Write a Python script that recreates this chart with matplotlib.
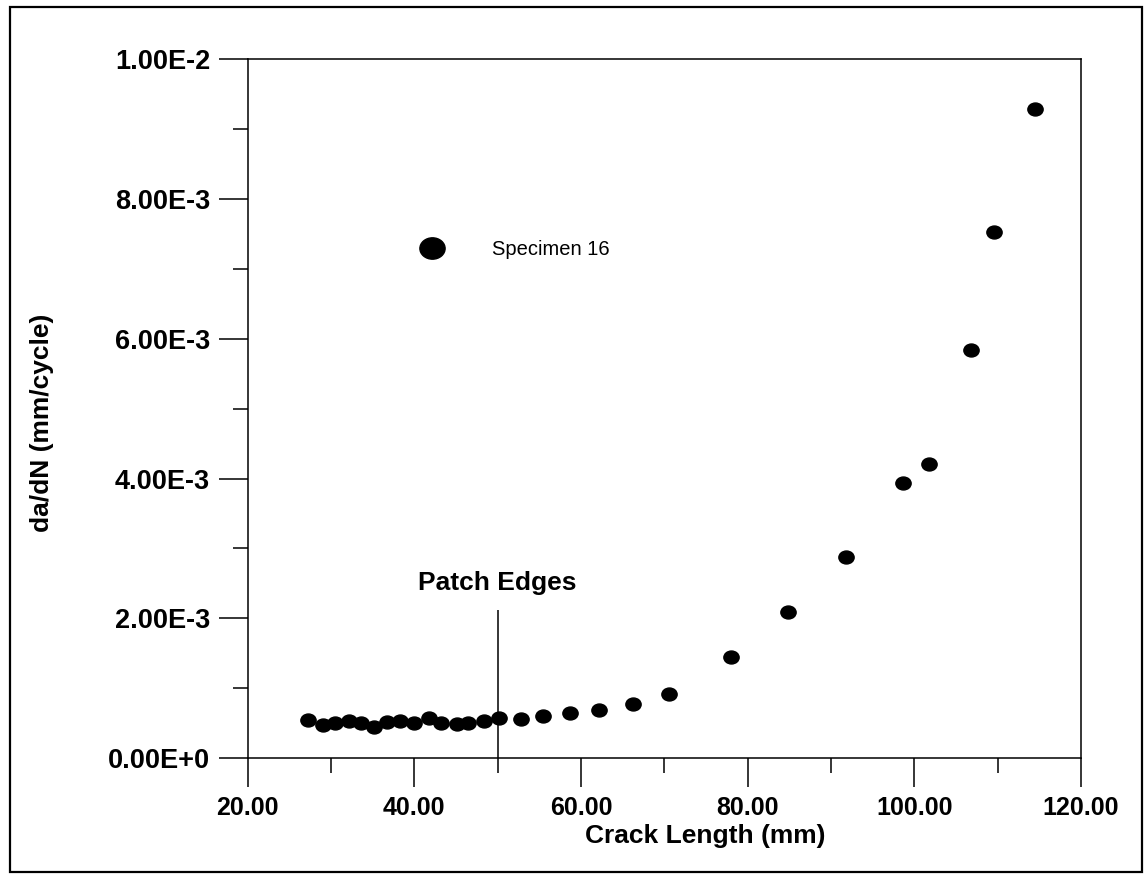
import numpy as np
import matplotlib
matplotlib.use("Agg")
import matplotlib.pyplot as plt
from matplotlib.ticker import MultipleLocator, FuncFormatter
from matplotlib.path import Path
from matplotlib.patches import Rectangle
from matplotlib.transforms import Affine2D

# --- da/dN vs crack length, specimen 16 ---

crack_len = [27.24, 29.04, 30.53, 32.12, 33.65, 35.17, 36.77, 38.33, 39.93, 41.77,
             43.21, 45.09, 46.49, 48.37, 50.17, 52.77, 55.50, 58.74, 62.14, 66.26,
             70.54, 78.00, 84.87, 91.80, 98.68, 101.80, 106.83, 109.60, 114.45]
# growth rate in 1e-3 mm/cycle
dadn_e3 = [0.542, 0.48, 0.50, 0.54, 0.50, 0.45, 0.52, 0.54, 0.51, 0.575,
           0.50, 0.485, 0.51, 0.54, 0.57, 0.56, 0.61, 0.65, 0.685, 0.775,
           0.92, 1.45, 2.09, 2.88, 3.93, 4.21, 5.84, 7.52, 9.28]
series_name = "Specimen 16"

patch_x = 50.0
patch_top = 2.12e-3
patch_label = "Patch Edges"

dadn = np.array(dadn_e3) * 1e-3

plt.rcParams['font.family'] = ['Liberation Sans', 'DejaVu Sans']

fig = plt.figure(figsize=(11.44, 8.76), dpi=100)
ax = fig.add_axes([0.2165, 0.1344, 0.7284, 0.7982])

# slightly flattened dot, like the scanned markers
dot = Path.unit_circle().transformed(Affine2D().scale(1.18, 1.0))

ax.plot(crack_len, dadn, linestyle='none', marker=dot, markersize=11,
        color='black', label=series_name)
ax.vlines(patch_x, 0, patch_top, color='black', linewidth=1.1)
ax.text(patch_x, 2.5e-3, patch_label, ha='center', va='center',
        fontsize=19, fontweight='bold')

ax.set_xlim(20, 120)
ax.set_ylim(0, 0.01)

ax.xaxis.set_major_locator(MultipleLocator(20))
ax.xaxis.set_minor_locator(MultipleLocator(10))
ax.yaxis.set_major_locator(MultipleLocator(0.002))
ax.yaxis.set_minor_locator(MultipleLocator(0.001))

def sci_fmt(v, pos):
    if abs(v) < 1e-12:
        return "0.00E+0"
    e = int(np.floor(np.log10(abs(v)) + 1e-9))
    return f"{v / 10**e:.2f}E{e:+d}"

ax.xaxis.set_major_formatter(FuncFormatter(lambda v, p: f"{v:.2f}"))
ax.yaxis.set_major_formatter(FuncFormatter(sci_fmt))

ax.tick_params(which='major', direction='out', length=21, width=1.1, pad=6)
ax.tick_params(which='minor', direction='out', length=11, width=1.1)
ax.tick_params(axis='x', labelsize=18)
ax.tick_params(axis='y', labelsize=19.5)
for lab in ax.get_xticklabels() + ax.get_yticklabels():
    lab.set_fontweight('bold')

for s in ax.spines.values():
    s.set_linewidth(1.1)

ax.set_xlabel("Crack Length (mm)", fontsize=19, fontweight='bold')
ax.xaxis.set_label_coords(0.549, -0.094)
ax.set_ylabel("da/dN (mm/cycle)", fontsize=19, fontweight='bold', va='center')
ax.yaxis.set_label_coords(-0.247, 0.48)

ax.legend(loc='center left', bbox_to_anchor=(0.197, 0.727), frameon=False,
          borderpad=0, borderaxespad=0, handlelength=2.0, handletextpad=2.0,
          markerscale=1.65, prop={'size': 14.5})

# outer frame around the whole figure
fig.patches.append(Rectangle((0.009, 0.004), 0.989, 0.988, transform=fig.transFigure,
                             fill=False, edgecolor='black', linewidth=1.6))

fig.savefig("out.png", dpi=100)
